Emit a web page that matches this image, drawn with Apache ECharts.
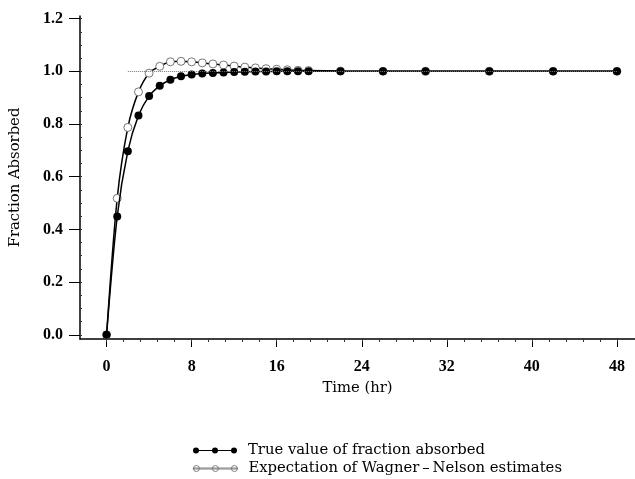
<!DOCTYPE html>
<html lang="en">
<head>
    <meta charset="UTF-8">
    <title>Fraction Absorbed</title>
    <script src="https://cdn.jsdelivr.net/npm/echarts@6/dist/echarts.min.js"></script>
    <style>
        html, body{
            margin:0;
            padding:0;
            background:#fff;
        }
        #box{
            width: 635px;
            height: 479px;
        }
    </style>
</head>
<body>
<div id="box"></div>
<script>
    // time points (hr)
    var times = [0, 1, 2, 3, 4, 5, 6, 7, 8, 9, 10, 11, 12, 13, 14, 15, 16, 17, 18, 19, 22, 26, 30, 36, 42, 48];
    // true fraction absorbed (filled dots)
    var trueValues = [0, 0.449, 0.697, 0.832, 0.906, 0.945, 0.968, 0.981, 0.988, 0.992, 0.994, 0.996, 0.997, 0.998, 0.999, 0.999, 1.0, 1.0, 1.0, 1.0, 1.0, 1.0, 1.0, 1.0, 1.0, 1.0];
    // expectation of Wagner-Nelson estimates (open dots)
    var wnValues = [0, 0.518, 0.787, 0.922, 0.993, 1.019, 1.036, 1.038, 1.036, 1.032, 1.028, 1.024, 1.020, 1.016, 1.013, 1.010, 1.008, 1.006, 1.004, 1.003, 1.001, 1.0, 1.0, 1.0, 1.0, 1.0];
    var xTicks = [0, 8, 16, 24, 32, 40, 48];
    var yTicks = [0, 0.2, 0.4, 0.6, 0.8, 1.0, 1.2];
    // dotted reference level
    var refLevel = 1.0, refFrom = 2, refTo = 48;

    var trueName = 'True value of fraction absorbed';
    var wnName = 'Expectation of Wagner\u2009\u2013\u2009Nelson estimates';

    var serif = 'DejaVu Serif';
    var tickFont = {fontFamily: 'Liberation Serif', fontWeight: 'bold', fontSize: 16, color: '#000'};

    function pairs(xs, ys){
        var out = [];
        for(var i=0; i<xs.length; i++){
            out.push([xs[i], ys[i]]);
        }
        return out;
    }
    function range(a, b, step){
        var out = [];
        for(var v=a; v<=b+1e-9; v+=step){
            out.push(Math.round(v*1000)/1000);
        }
        return out;
    }
    // clockwise circle, same winding as the line rect so nothing gets cut out
    function circle(cx, cy, r){
        return 'M' + (cx-r) + ' ' + cy + ' a' + r + ' ' + r + ' 0 1 1 ' + (2*r) + ' 0 a' + r + ' ' + r + ' 0 1 1 ' + (-2*r) + ' 0 Z ';
    }
    var legendPath = 'path://M0 3.5 L44 3.5 L44 4.5 L0 4.5 Z ' + circle(3, 4, 3) + circle(22, 4, 3) + circle(41, 4, 3);

    function legendBox(top, name, style){
        return {
            left: 188,
            top: top,
            itemWidth: 44,
            itemHeight: 8,
            selectedMode: false,
            textStyle: {
                fontFamily: serif,
                fontSize: 14.8,
                color: '#000',
                padding: [0, 0, 0, 6]
            },
            data: [{name: name, icon: legendPath, itemStyle: style}]
        };
    }

    function valueAxis(min, max, extra){
        var ax = {
            type: 'value',
            min: min,
            max: max,
            splitLine: {show: false}
        };
        for(var k in extra){
            ax[k] = extra[k];
        }
        return ax;
    }

    var MyChart = echarts.init(document.getElementById('box'));
    var option = {
        animation: false,
        backgroundColor: '#fff',
        grid: {
            left: 80,
            right: 0,
            top: 16,
            bottom: 140
        },
        legend: [
            legendBox(438, trueName, {color: '#000', borderWidth: 0}),
            legendBox(456, wnName, {color: '#fff', borderColor: '#666', borderWidth: 0.8})
        ],
        xAxis: [
            valueAxis(-2.5, 49.7, {
                name: 'Time (hr)',
                nameLocation: 'middle',
                nameGap: 42,
                nameTextStyle: {fontFamily: serif, fontSize: 14.8, color: '#000'},
                axisLine: {show: true, onZero: false, lineStyle: {color: '#000', width: 1.5}},
                axisTick: {show: true, customValues: xTicks, length: 8, lineStyle: {color: '#000'}},
                axisLabel: Object.assign({customValues: xTicks, margin: 20}, tickFont)
            }),
            valueAxis(-2.5, 49.7, {
                position: 'bottom',
                axisLine: {show: false, onZero: false},
                axisTick: {show: true, customValues: range(0, 48, 1.6), length: 3, lineStyle: {color: '#333'}},
                axisLabel: {show: false}
            })
        ],
        yAxis: [
            valueAxis(-0.016, 1.21, {
                name: 'Fraction Absorbed',
                nameLocation: 'middle',
                nameGap: 57,
                nameTextStyle: {fontFamily: serif, fontSize: 14.8, color: '#000'},
                axisLine: {show: true, onZero: false, lineStyle: {color: '#000', width: 1.5}},
                axisTick: {show: true, customValues: yTicks, length: 11, lineStyle: {color: '#000'}},
                axisLabel: Object.assign({
                    customValues: yTicks, margin: 17,
                    formatter: function(v){ return v.toFixed(1); }
                }, tickFont)
            }),
            valueAxis(-0.016, 1.21, {
                position: 'left',
                axisLine: {show: false, onZero: false},
                axisTick: {show: true, inside: true, customValues: range(0, 1.2, 0.05), length: 2, lineStyle: {color: '#333'}},
                axisLabel: {show: false}
            })
        ],
        series: [{
            name: wnName,
            type: 'line',
            smooth: 0.3,
            data: pairs(times, wnValues),
            symbol: 'circle',
            symbolSize: 8,
            itemStyle: {color: '#fff', borderColor: '#555', borderWidth: 0.8},
            lineStyle: {color: '#000', width: 1.5},
            z: 2
        }, {
            name: trueName,
            type: 'line',
            smooth: 0.3,
            data: pairs(times, trueValues),
            symbol: 'circle',
            symbolSize: 8,
            itemStyle: {color: '#000'},
            lineStyle: {color: '#000', width: 1.5},
            z: 3,
            markLine: {
                silent: true,
                symbol: 'none',
                label: {show: false},
                lineStyle: {color: '#777', type: 'dotted', width: 1},
                data: [[{coord: [refFrom, refLevel]}, {coord: [refTo, refLevel]}]]
            }
        }]
    };
    MyChart.setOption(option, true);
</script>
</body>
</html>
